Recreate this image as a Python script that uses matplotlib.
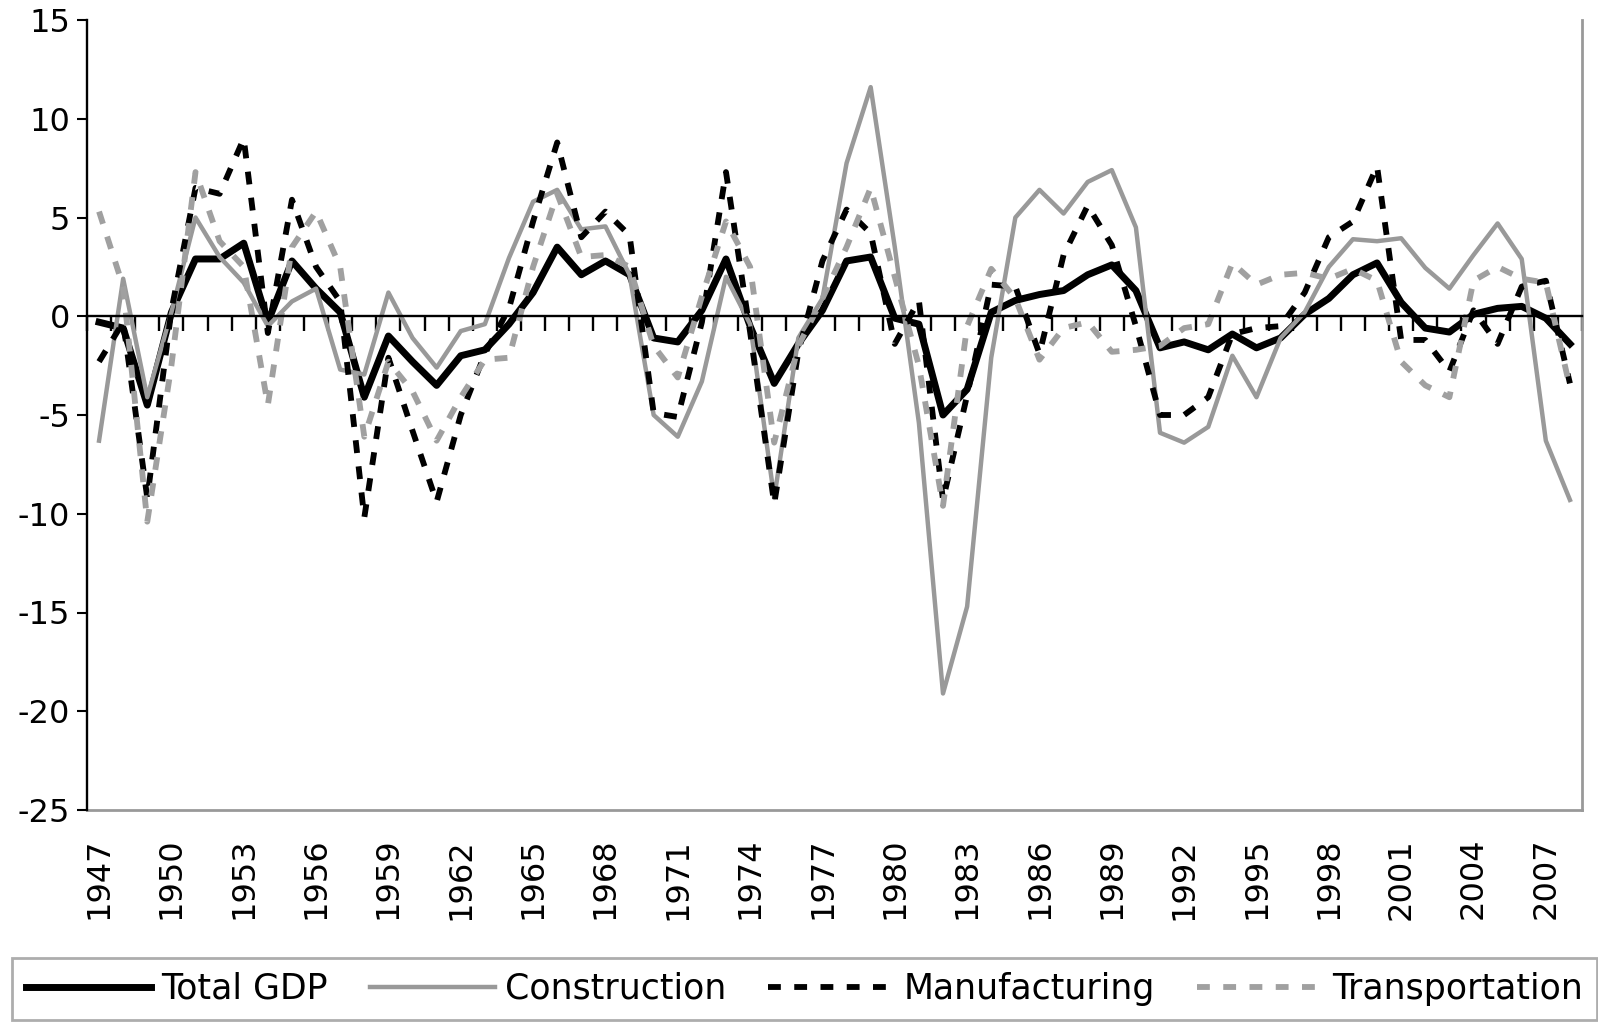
import numpy as np
import matplotlib
matplotlib.use("Agg")
import matplotlib.pyplot as plt

years = list(range(1947, 2009))

total_gdp = [-0.3, -0.6, -4.5, 0.2, 2.9, 2.9, 3.7, -0.3, 2.8, 1.4,
             0.2, -4.1, -1.0, -2.3, -3.5, -2.0, -1.7, -0.4, 1.2, 3.5,
             2.1, 2.8, 2.1, -1.1, -1.3, 0.3, 2.9, -0.5, -3.4, -1.4,
             0.3, 2.8, 3.0, -0.1, -0.4, -5.0, -3.7, 0.2, 0.8, 1.1,
             1.3, 2.1, 2.6, 1.3, -1.6, -1.3, -1.7, -0.9, -1.6, -1.1,
             0.1, 0.9, 2.1, 2.7, 0.7, -0.6, -0.8, 0.1, 0.4, 0.5,
             -0.1, -1.4]

construction = [-6.3, 1.9, -4.1, 0.2, 5.0, 3.0, 1.7, -0.5, 0.75, 1.4,
                -2.7, -2.95, 1.2, -1.1, -2.6, -0.75, -0.4, 2.95, 5.8, 6.4,
                4.4, 4.55, 2.1, -5.0, -6.1, -3.3, 2.0, -0.4, -9.2, -1.1,
                0.9, 7.75, 11.6, 3.5, -5.4, -19.1, -14.7, -2.1, 5.0, 6.4,
                5.2, 6.8, 7.4, 4.5, -5.9, -6.4, -5.6, -2.0, -4.1, -1.1,
                0.2, 2.5, 3.9, 3.8, 3.95, 2.45, 1.4, 3.1, 4.7, 2.9,
                -6.3, -9.3]

manufacturing = [-2.3, -0.3, -9.2, 0.3, 6.5, 6.2, 9.0, -0.85, 5.9, 2.5,
                 0.75, -10.2, -2.1, -5.8, -9.4, -5.0, -1.9, 0.4, 4.8, 8.8,
                 4.0, 5.3, 4.1, -4.9, -5.1, -0.3, 7.3, -0.8, -9.5, -1.8,
                 2.8, 5.4, 4.2, -1.4, 0.8, -9.3, -4.0, 1.6, 1.5, -1.9,
                 3.1, 5.6, 3.6, -0.5, -5.0, -5.0, -4.1, -0.9, -0.6, -0.5,
                 1.2, 4.0, 4.8, 7.6, -1.2, -1.2, -2.8, 0.3, -1.4, 1.5,
                 1.8, -3.4]

transportation = [5.3, 1.5, -10.4, -2.5, 7.3, 3.8, 2.5, -4.5, 3.5, 5.3,
                  2.5, -6.1, -2.3, -3.8, -6.3, -4.1, -2.2, -2.1, 2.5, 6.2,
                  3.0, 3.1, 2.5, -1.5, -3.1, 1.0, 4.8, 2.5, -6.4, -1.5,
                  0.9, 3.5, 6.5, 2.0, -2.5, -9.6, -0.5, 2.4, 0.9, -2.2,
                  -0.6, -0.3, -1.8, -1.7, -1.5, -0.6, -0.4, 2.7, 1.6, 2.1,
                  2.2, 1.9, 2.4, 1.8, -2.3, -3.5, -4.1, 1.8, 2.5, 1.9,
                  1.7, -3.6]

series_labels = ["Total GDP", "Construction", "Manufacturing", "Transportation"]
y_ticks = list(range(-25, 16, 5))
label_step = 3

plt.rcParams['font.family'] = ['DejaVu Sans']
FS = 23
GRAY = '#999999'

fig = plt.figure(figsize=(15.98, 10.23), dpi=100)
ax = fig.add_axes([87/1598, 1 - 810/1023, (1582-87)/1598, (810-20)/1023])

x = np.arange(len(years))
l1, = ax.plot(x, total_gdp, color='black', lw=5.0, label=series_labels[0])
l2, = ax.plot(x, construction, color=GRAY, lw=3.2, label=series_labels[1])
l3, = ax.plot(x, manufacturing, color='black', lw=4.2, dashes=(2.2, 2.3),
              label=series_labels[2])
l4, = ax.plot(x, transportation, color='#a0a0a0', lw=4.2, dashes=(2.2, 2.3),
              label=series_labels[3])

ax.set_xlim(-0.5, len(years) - 0.5)
ax.set_ylim(y_ticks[0], y_ticks[-1])
ax.set_yticks(y_ticks)
ax.set_yticklabels([str(v) for v in y_ticks])
ax.tick_params(axis='y', direction='out', length=7, width=1.5, pad=5,
               labelsize=FS, color='black')

# category axis crossing at zero, with boundary tick marks
ax.spines['bottom'].set_position(('data', 0))
ax.spines['bottom'].set_color('black')
ax.spines['bottom'].set_linewidth(1.7)
ax.set_xticks(np.arange(len(years) + 1) - 0.5)
ax.tick_params(axis='x', direction='out', length=11, width=1.7,
               labelbottom=False, color='black')

ax.spines['left'].set_color('black')
ax.spines['left'].set_linewidth(1.7)
ax.spines['top'].set_visible(False)
ax.spines['right'].set_color(GRAY)
ax.spines['right'].set_linewidth(2)

# year labels at the bottom of the plot area
lab = ax.secondary_xaxis('bottom')
lab.set_xticks(x[::label_step])
lab.set_xticklabels([str(y) for y in years[::label_step]], rotation=90,
                    fontsize=FS)
lab.tick_params(axis='x', length=0, pad=20)
lab.spines['bottom'].set_color(GRAY)
lab.spines['bottom'].set_linewidth(2)

leg = fig.legend(handles=[l1, l2, l3, l4], labels=series_labels,
                 loc='upper left',
                 bbox_to_anchor=(12/1598, 1 - 958/1023, 1585/1598, 0),
                 mode='expand', ncol=4, fontsize=25, frameon=True,
                 fancybox=False, edgecolor=GRAY, handlelength=3.6,
                 handletextpad=0.3, borderaxespad=0, borderpad=0.4)
leg.get_frame().set_linewidth(2)

fig.savefig('out.png', dpi=100)
